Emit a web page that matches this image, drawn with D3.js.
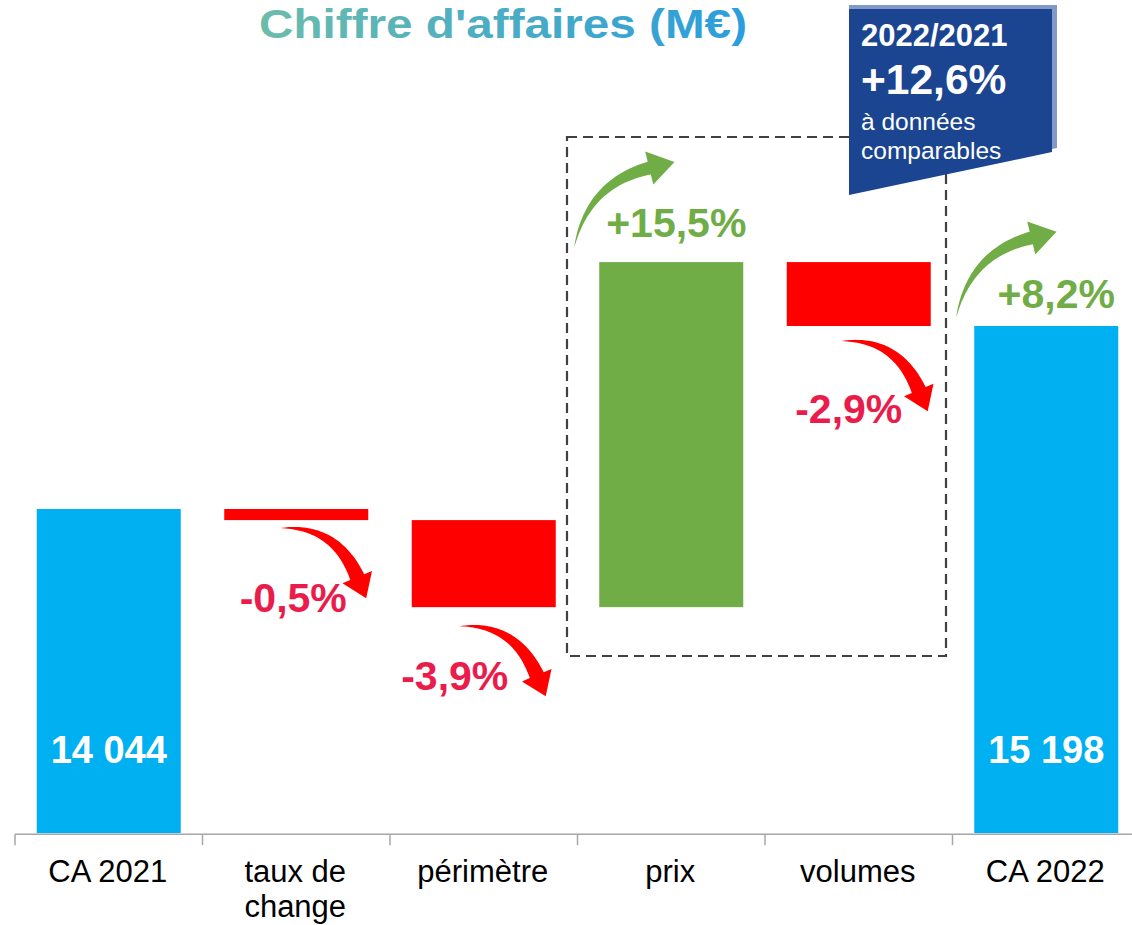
<!DOCTYPE html>
<html>
<head>
<meta charset="utf-8">
<script src="https://cdn.jsdelivr.net/npm/d3@7"></script>
<style>
  html, body { margin: 0; padding: 0; background: #fff; }
  svg { display: block; font-family: "Liberation Sans", Arial, sans-serif; }
</style>
</head>
<body>
<svg id="chart" width="1132" height="925"></svg>
<script>
// ---- Data ----
const categories = ["CA 2021", "taux de change", "périmètre", "prix", "volumes", "CA 2022"];
const categoryLines = [["CA 2021"], ["taux de", "change"], ["périmètre"], ["prix"], ["volumes"], ["CA 2022"]];
const startValue = 14044;
const deltas = [-70, -549, 2176, -403];      // taux de change, périmètre, prix, volumes
const endValue = 15198;
const totalLabels = ["14 044", "15 198"];
const pctLabels = ["-0,5%", "-3,9%", "+15,5%", "-2,9%", "+8,2%"];
const titleText = "Chiffre d'affaires (M€)";
const boxLines = ["2022/2021", "+12,6%", "à données", "comparables"];

// ---- Build waterfall rows ----
const rows = [];
rows.push({cat: categories[0], y0: 12000, y1: startValue, type: "total"});
let run = startValue;
deltas.forEach((d, i) => {
  rows.push({cat: categories[i + 1], y0: run, y1: run + d, type: d < 0 ? "neg" : "pos"});
  run += d;
});
rows.push({cat: categories[5], y0: 12000, y1: endValue, type: "total"});

const colors = {total: "#00b0f0", neg: "#ff0000", pos: "#70ad47"};

const svg = d3.select("#chart");

// ---- Scales ----
const x = d3.scaleBand().domain(categories).range([15, 1140]).paddingInner(0.232).paddingOuter(0.116);
const k = (509 - 326) / (endValue - startValue);
const y0px = 509 + (startValue - 12000) * k;
const y = d3.scaleLinear().domain([12000, 16000]).range([y0px, y0px - 4000 * k]);
const step = x.step();
const bw = x.bandwidth();

// ---- Title with gradient ----
const defs = svg.append("defs");
const grad = defs.append("linearGradient").attr("id", "tgrad")
  .attr("gradientUnits", "userSpaceOnUse").attr("x1", 258).attr("x2", 748).attr("y1", 0).attr("y2", 0);
grad.append("stop").attr("offset", "0%").attr("stop-color", "#6cbcab");
grad.append("stop").attr("offset", "100%").attr("stop-color", "#2a9ddd");
svg.append("text").attr("x", 503).attr("y", 38).attr("text-anchor", "middle")
  .attr("font-size", 41).attr("font-weight", "bold").attr("fill", "url(#tgrad)")
  .attr("textLength", 488).attr("lengthAdjust", "spacingAndGlyphs")
  .text(titleText);

// ---- Dashed box ----
svg.append("rect").attr("x", 567).attr("y", 137).attr("width", 379).attr("height", 519)
  .attr("fill", "none").attr("stroke", "#404040").attr("stroke-width", 2.2)
  .attr("stroke-dasharray", "10,6");

// ---- Bars ----
svg.append("g").selectAll("rect").data(rows).join("rect")
  .attr("x", d => x(d.cat))
  .attr("width", bw)
  .attr("y", d => y(Math.max(d.y0, d.y1)))
  .attr("height", d => Math.abs(y(d.y0) - y(d.y1)))
  .attr("fill", d => colors[d.type]);

// ---- Axis ----
const axisY = y(12000) + 1;
const axisG = svg.append("g");
axisG.append("line").attr("x1", 15).attr("x2", 1132).attr("y1", axisY).attr("y2", axisY)
  .attr("stroke", "#a6a6a6").attr("stroke-width", 1.5);
const boundaries = categories.map(c => x(c) - step * 0.232 / 2);
axisG.selectAll("line.tick").data(boundaries).join("line").attr("class", "tick")
  .attr("x1", d => d).attr("x2", d => d).attr("y1", axisY).attr("y2", axisY + 11)
  .attr("stroke", "#a6a6a6").attr("stroke-width", 1.5);

// category labels
const lab = svg.append("g").selectAll("text").data(categories).join("text")
  .attr("x", d => x(d) + bw / 2 - 1)
  .attr("y", 882)
  .attr("text-anchor", "middle").attr("font-size", 31).attr("fill", "#000");
lab.each(function(d, i) {
  const t = d3.select(this);
  categoryLines[i].forEach((ln, j) => {
    t.append("tspan").attr("x", x(d) + bw / 2 - 1).attr("dy", j === 0 ? 0 : 35).text(ln);
  });
});

// ---- Total value labels ----
[categories[0], categories[5]].forEach((c, i) => {
  svg.append("text").attr("x", x(c) + bw / 2).attr("y", y(12000) - 70)
    .attr("text-anchor", "middle").attr("font-size", 38).attr("font-weight", "bold")
    .attr("fill", "#fff").text(totalLabels[i]);
});

// ---- Arrows ----
function arrow(T, C, B, wmax, hw, hl, color) {
  const N = 40, L = [], R = [];
  for (let i = 0; i <= N; i++) {
    const t = i / N;
    const px = (1 - t) * (1 - t) * T[0] + 2 * (1 - t) * t * C[0] + t * t * B[0];
    const py = (1 - t) * (1 - t) * T[1] + 2 * (1 - t) * t * C[1] + t * t * B[1];
    const dx = 2 * (1 - t) * (C[0] - T[0]) + 2 * t * (B[0] - C[0]);
    const dy = 2 * (1 - t) * (C[1] - T[1]) + 2 * t * (B[1] - C[1]);
    const len = Math.hypot(dx, dy);
    const nx = -dy / len, ny = dx / len;
    const w = wmax * Math.pow(t, 0.85) / 2;
    L.push([px + nx * w, py + ny * w]);
    R.push([px - nx * w, py - ny * w]);
  }
  const ux = (B[0] - C[0]), uy = (B[1] - C[1]);
  const ul = Math.hypot(ux, uy);
  const u = [ux / ul, uy / ul], n = [-u[1], u[0]];
  const pts = L.concat([
    [B[0] + n[0] * hw, B[1] + n[1] * hw],
    [B[0] + u[0] * hl, B[1] + u[1] * hl],
    [B[0] - n[0] * hw, B[1] - n[1] * hw]
  ]).concat(R.reverse());
  svg.append("path").attr("d", "M" + pts.map(p => p[0].toFixed(1) + "," + p[1].toFixed(1)).join("L") + "Z")
    .attr("fill", color);
}
function redArrow(tx, ty) {
  arrow([tx, ty], [tx + 55, ty - 3], [tx + 77, ty + 49], 15, 16, 23, "#ff0000");
}
function greenArrow(tx, ty) {
  arrow([tx, ty], [tx + 14, ty - 64], [tx + 75, ty - 79], 13, 17, 26, "#70ad47");
}

// arrows anchored on bars
const xc = c => x(c);
redArrow(xc(categories[1]) + 56, y(rows[1].y1) + 8);
redArrow(xc(categories[2]) + 48, y(rows[2].y1) + 19);
redArrow(xc(categories[4]) + 55, y(rows[4].y1) + 15);
greenArrow(xc(categories[3]) - 25, y(rows[3].y1) - 15);
greenArrow(xc(categories[5]) - 18, y(rows[5].y1) - 9);

// ---- Percentage labels ----
const pctPos = [
  {c: 1, dx: -3, yv: rows[1].y1, dy: 92, col: "#ea1c4c"},
  {c: 2, dx: -29, yv: rows[2].y1, dy: 83, col: "#ea1c4c"},
  {c: 3, dx: 5, yv: rows[3].y1, dy: -25, col: "#70ad47"},
  {c: 4, dx: -10, yv: rows[4].y1, dy: 97, col: "#ea1c4c"},
  {c: 5, dx: 10, yv: rows[5].y1, dy: -18, col: "#70ad47"}
];
pctPos.forEach((p, i) => {
  svg.append("text").attr("x", x(categories[p.c]) + bw / 2 + p.dx).attr("y", y(p.yv) + p.dy)
    .attr("text-anchor", "middle").attr("font-size", 41).attr("font-weight", "bold")
    .attr("fill", p.col).text(pctLabels[i]);
});

// ---- Blue banner box ----
svg.append("path").attr("d", "M849,5L1057,5L1057,148L849,191Z").attr("fill", "#8099c8");
svg.append("path").attr("d", "M849,9L1052,9L1052,152L849,195Z").attr("fill", "#1b4590");
const bt = svg.append("g").attr("fill", "#fff");
bt.append("text").attr("x", 861).attr("y", 46).attr("font-size", 31).attr("font-weight", "bold").text(boxLines[0]);
bt.append("text").attr("x", 861).attr("y", 94).attr("font-size", 42.5).attr("font-weight", "bold").text(boxLines[1]);
bt.append("text").attr("x", 861).attr("y", 130).attr("font-size", 24.5).text(boxLines[2]);
bt.append("text").attr("x", 861).attr("y", 159).attr("font-size", 24.5).text(boxLines[3]);
</script>
</body>
</html>
